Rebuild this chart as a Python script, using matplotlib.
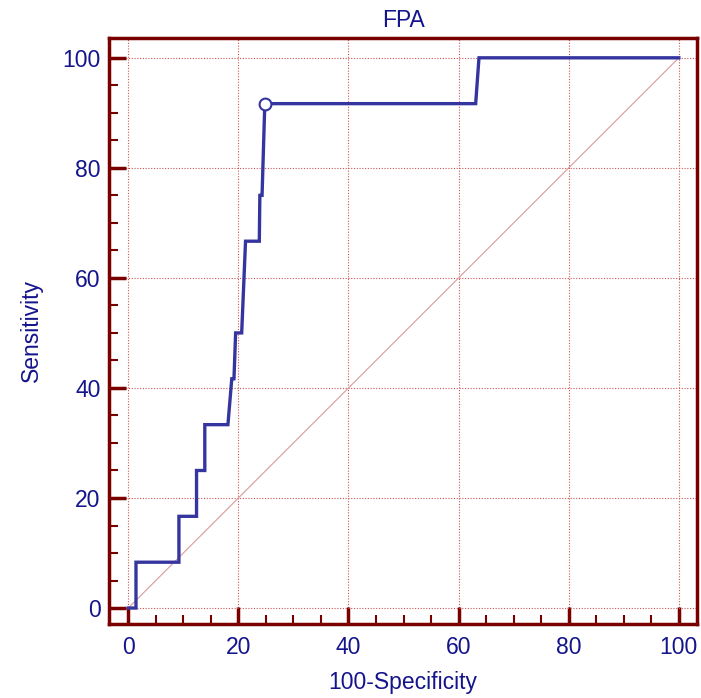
import matplotlib
matplotlib.use("Agg")
import matplotlib.pyplot as plt
from matplotlib.ticker import MultipleLocator

# ROC curve vertices (100-Specificity, Sensitivity)
fpr = [0.0, 1.4, 1.4, 9.2, 9.2, 12.4, 12.4, 13.9, 13.9, 18.1, 18.8, 19.2, 19.5,
       20.6, 21.3, 23.8, 23.9, 24.3, 24.8, 63.1, 63.7, 100.0]
sens = [0.0, 0.0, 8.33, 8.33, 16.67, 16.67, 25.0, 25.0, 33.33, 33.33, 41.67, 41.67, 50.0,
        50.0, 66.67, 66.67, 75.0, 75.0, 91.67, 91.67, 100.0, 100.0]
# Optimal criterion point
opt_x = [24.8]
opt_y = [91.67]
diag = [0, 100]
ticks = [0, 20, 40, 60, 80, 100]

plt.rcParams['font.family'] = ['Liberation Sans', 'DejaVu Sans']

maroon = '#7a0000'
navy = '#14148c'
curve_col = '#3535a0'
fs = 16.5

fig = plt.figure(figsize=(7.01, 6.98), dpi=100)
ax = fig.add_axes([109/701, 1-624/698, (697-109)/701, (624-38)/698])

ax.plot(diag, diag, color='#d99a9a', lw=0.8, zorder=2)
ax.plot(fpr, sens, color=curve_col, lw=2.4, zorder=3, solid_joinstyle='miter')
ax.plot(opt_x, opt_y, 'o', ms=8.5, mfc='white', mec=curve_col, mew=1.5, zorder=4)

ax.set_xlim(-3.5, 103.3)
ax.set_ylim(-2.9, 103.6)
ax.set_xticks(ticks)
ax.set_yticks(ticks)
ax.xaxis.set_minor_locator(MultipleLocator(5))
ax.yaxis.set_minor_locator(MultipleLocator(5))

ax.grid(True, which='major', color='#cc5555', linestyle=(0, (1, 1.5)), lw=0.8, zorder=1)

for s in ['left', 'bottom', 'top', 'right']:
    ax.spines[s].set_color(maroon)
    ax.spines[s].set_linewidth(2.5)

ax.tick_params(which='major', direction='in', length=12.5, width=2.5, color=maroon,
               labelcolor=navy, labelsize=fs, top=False, right=False)
ax.tick_params(axis='x', which='major', pad=9)
ax.tick_params(axis='y', which='major', pad=6)
ax.tick_params(which='minor', direction='in', length=6.5, width=1.5, color=maroon,
               top=False, right=False)

ax.set_xlabel('100-Specificity', color=navy, fontsize=fs, labelpad=8)
ax.set_ylabel('Sensitivity', color=navy, fontsize=fs, labelpad=14)
ax.set_title('FPA', color=navy, fontsize=fs, pad=8)

fig.savefig('out.png', dpi=100)
